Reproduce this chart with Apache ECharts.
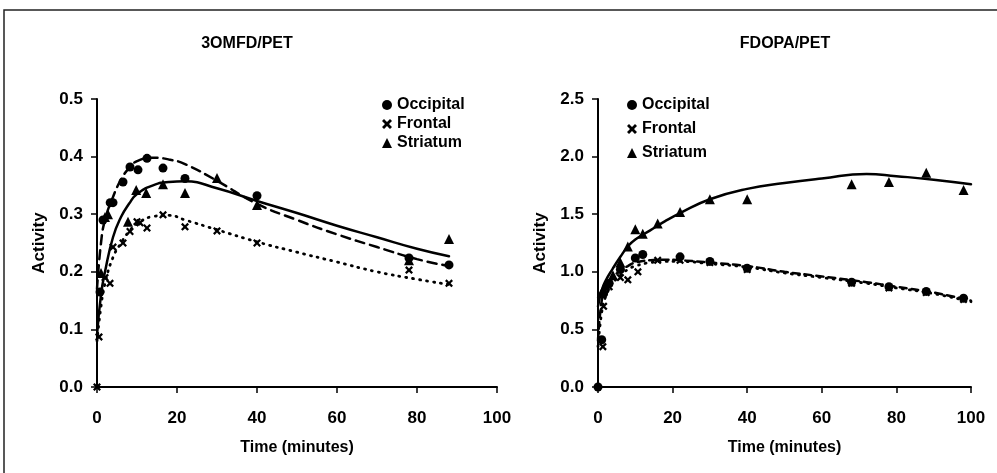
<!DOCTYPE html>
<html><head><meta charset="utf-8">
<script src="https://cdn.jsdelivr.net/npm/echarts@6/dist/echarts.min.js"></script>
<style>html,body{margin:0;padding:0;background:#fff}#c{width:997px;height:473px}</style>
</head><body><div id="c"></div>
<script>
// ---- 3OMFD/PET (left) ----
const omfdOccT = [0.75, 1.5, 3.3, 4, 6.5, 8.25, 10.25, 12.5, 16.5, 22, 40, 78, 88];
const omfdOccV = [0.165, 0.29, 0.32, 0.32, 0.356, 0.382, 0.377, 0.397, 0.38, 0.362, 0.332, 0.224, 0.212];
const omfdFroT = [0, 0.5, 2, 3.25, 4, 6.5, 8.25, 10, 10.75, 12.5, 16.5, 22, 30, 40, 78, 88];
const omfdFroV = [0, 0.087, 0.19, 0.18, 0.243, 0.25, 0.27, 0.287, 0.285, 0.276, 0.299, 0.278, 0.271, 0.25, 0.203, 0.18];
const omfdStrT = [1, 2, 2.75, 7.75, 9.8, 12.3, 16.5, 22, 30, 40, 78, 88];
const omfdStrV = [0.198, 0.295, 0.30, 0.287, 0.342, 0.337, 0.352, 0.337, 0.363, 0.316, 0.22, 0.257];
const omfdFitT = [0, 1, 2, 4, 6, 8, 10, 14, 18, 22, 30, 40, 50, 60, 70, 80, 88];
const omfdOccFit = [0.17, 0.25, 0.29, 0.33, 0.36, 0.38, 0.392, 0.398, 0.395, 0.387, 0.358, 0.318, 0.29, 0.265, 0.243, 0.222, 0.21];
const omfdFroFit = [0.08, 0.14, 0.18, 0.225, 0.25, 0.27, 0.283, 0.296, 0.298, 0.29, 0.273, 0.252, 0.234, 0.217, 0.2, 0.187, 0.178];
const omfdStrFit = [0.09, 0.16, 0.2, 0.26, 0.295, 0.318, 0.335, 0.35, 0.356, 0.357, 0.345, 0.323, 0.302, 0.28, 0.26, 0.24, 0.227];

// ---- FDOPA/PET (right) ----
const fdopaOccT = [0, 1, 1.5, 3, 6, 10, 12, 22, 30, 40, 68, 78, 88, 98];
const fdopaOccV = [0, 0.41, 0.81, 0.9, 1.02, 1.12, 1.15, 1.13, 1.09, 1.03, 0.91, 0.87, 0.83, 0.77];
const fdopaFroT = [1.3, 1.5, 3, 6, 8, 10.7, 16, 22, 30, 40, 68, 78, 88, 98];
const fdopaFroV = [0.35, 0.70, 0.87, 0.95, 0.93, 1.0, 1.10, 1.10, 1.08, 1.02, 0.90, 0.86, 0.82, 0.76];
const fdopaStrT = [1, 2, 4, 6, 8, 10, 12, 16, 22, 30, 40, 68, 78, 88, 98];
const fdopaStrV = [0.82, 0.88, 0.97, 1.08, 1.22, 1.37, 1.33, 1.42, 1.52, 1.63, 1.63, 1.76, 1.78, 1.86, 1.71];
const fdopaFitT = [0, 1, 2, 4, 6, 8, 10, 14, 18, 22, 30, 40, 50, 60, 72, 80, 90, 100];
const fdopaOccFit = [0.4, 0.75, 0.85, 0.95, 1.01, 1.05, 1.08, 1.1, 1.105, 1.1, 1.08, 1.05, 1.0, 0.96, 0.91, 0.87, 0.82, 0.75];
const fdopaFroFit = [0.35, 0.65, 0.78, 0.9, 0.97, 1.02, 1.05, 1.08, 1.09, 1.09, 1.07, 1.04, 0.99, 0.95, 0.9, 0.86, 0.81, 0.74];
const fdopaStrFit = [0.7, 0.84, 0.92, 1.03, 1.13, 1.22, 1.28, 1.36, 1.44, 1.51, 1.63, 1.72, 1.77, 1.81, 1.85, 1.83, 1.8, 1.76];

const titles = ['3OMFD/PET', 'FDOPA/PET'];
const seriesNames = ['Occipital', 'Frontal', 'Striatum'];
const xName = 'Time (minutes)';
const yName = 'Activity';

const pairs = (t, v) => t.map((x, i) => [x, v[i]]);
const INK = '#000';
const FONT = '"Liberation Sans", Arial, sans-serif';
const XSYM = 'path://M0,2 L2,0 L5,3 L8,0 L10,2 L7,5 L10,8 L8,10 L5,7 L2,10 L0,8 L3,5 Z';
const symbols = {Occipital: 'circle', Frontal: XSYM, Striatum: 'triangle'};
const symSize = {Occipital: 9, Frontal: 8, Striatum: 10};

function axisX(gi) {
  return {
    type: 'value', gridIndex: gi, min: 0, max: 100, interval: 20,
    name: xName, nameLocation: 'middle', nameGap: 53,
    nameTextStyle: {color: INK, fontFamily: FONT, fontWeight: 'bold', fontSize: 16},
    axisLine: {lineStyle: {color: INK, width: 2}},
    axisTick: {length: 6, lineStyle: {color: INK, width: 1.5}},
    axisLabel: {color: INK, fontFamily: FONT, fontWeight: 'bold', fontSize: 17, margin: 23},
    splitLine: {show: false}
  };
}
function axisY(gi, max, interval) {
  return {
    type: 'value', gridIndex: gi, min: 0, max: max, interval: interval,
    name: yName, nameLocation: 'middle', nameGap: 49, nameRotate: 90,
    nameTextStyle: {color: INK, fontFamily: FONT, fontWeight: 'bold', fontSize: 17},
    axisLine: {show: true, lineStyle: {color: INK, width: 2}},
    axisTick: {show: true, length: 6, lineStyle: {color: INK, width: 1.5}},
    axisLabel: {color: INK, fontFamily: FONT, fontWeight: 'bold', fontSize: 17, margin: 14,
      formatter: v => v.toFixed(1)},
    splitLine: {show: false}
  };
}
function scatter(name, gi, t, v) {
  return {
    type: 'scatter', name: name, xAxisIndex: gi, yAxisIndex: gi,
    data: pairs(t, v), symbol: symbols[name], symbolSize: symSize[name],
    itemStyle: {color: INK, opacity: 1}, z: 5, animation: false
  };
}
function fit(gi, t, v, dash, width) {
  return {
    type: 'line', name: 'fit', xAxisIndex: gi, yAxisIndex: gi,
    data: pairs(t, v), showSymbol: false, smooth: 0.5,
    lineStyle: {color: INK, width: width, type: dash, cap: 'round'}, z: 3, animation: false,
    silent: true
  };
}
function legend(left, top, gap) {
  return {
    orient: 'vertical', left: left, top: top, itemGap: gap, itemWidth: 10, itemHeight: 10,
    selectedMode: false,
    textStyle: {color: INK, fontFamily: FONT, fontWeight: 'bold', fontSize: 16},
    data: seriesNames.map(n => ({name: n, icon: symbols[n], itemStyle: {color: INK, opacity: 1}}))
  };
}

const chart = echarts.init(document.getElementById('c'), null, {renderer: 'canvas'});
chart.setOption({
  backgroundColor: '#fff',
  animation: false,
  graphic: [
    {type: 'rect', shape: {x: 4, y: 10, width: 1010, height: 480}, style: {fill: 'none', stroke: '#222', lineWidth: 1.5}, silent: true},
    {type: 'text', x: 247, y: 44, style: {text: titles[0], fill: INK, font: 'bold 16px ' + FONT, textAlign: 'center', textVerticalAlign: 'middle'}},
    {type: 'text', x: 785, y: 44, style: {text: titles[1], fill: INK, font: 'bold 16px ' + FONT, textAlign: 'center', textVerticalAlign: 'middle'}}
  ],
  legend: [legend(377, 92, 3), legend(622, 92, 8)],
  grid: [
    {left: 97, right: 500, top: 99, bottom: 86},
    {left: 598, right: 26, top: 99, bottom: 86}
  ],
  xAxis: [axisX(0), axisX(1)],
  yAxis: [axisY(0, 0.5, 0.1), axisY(1, 2.5, 0.5)],
  series: [
    fit(0, omfdFitT, omfdOccFit, [9, 6], 2.5),
    fit(0, omfdFitT, omfdFroFit, [1, 6], 2.8),
    fit(0, omfdFitT, omfdStrFit, 'solid', 2.5),
    scatter('Occipital', 0, omfdOccT, omfdOccV),
    scatter('Frontal', 0, omfdFroT, omfdFroV),
    scatter('Striatum', 0, omfdStrT, omfdStrV),
    fit(1, fdopaFitT, fdopaOccFit, [7, 5], 2.5),
    fit(1, fdopaFitT, fdopaFroFit, [1, 6], 2.8),
    fit(1, fdopaFitT, fdopaStrFit, 'solid', 2.5),
    scatter('Occipital', 1, fdopaOccT, fdopaOccV),
    scatter('Frontal', 1, fdopaFroT, fdopaFroV),
    scatter('Striatum', 1, fdopaStrT, fdopaStrV)
  ]
});
</script></body></html>
